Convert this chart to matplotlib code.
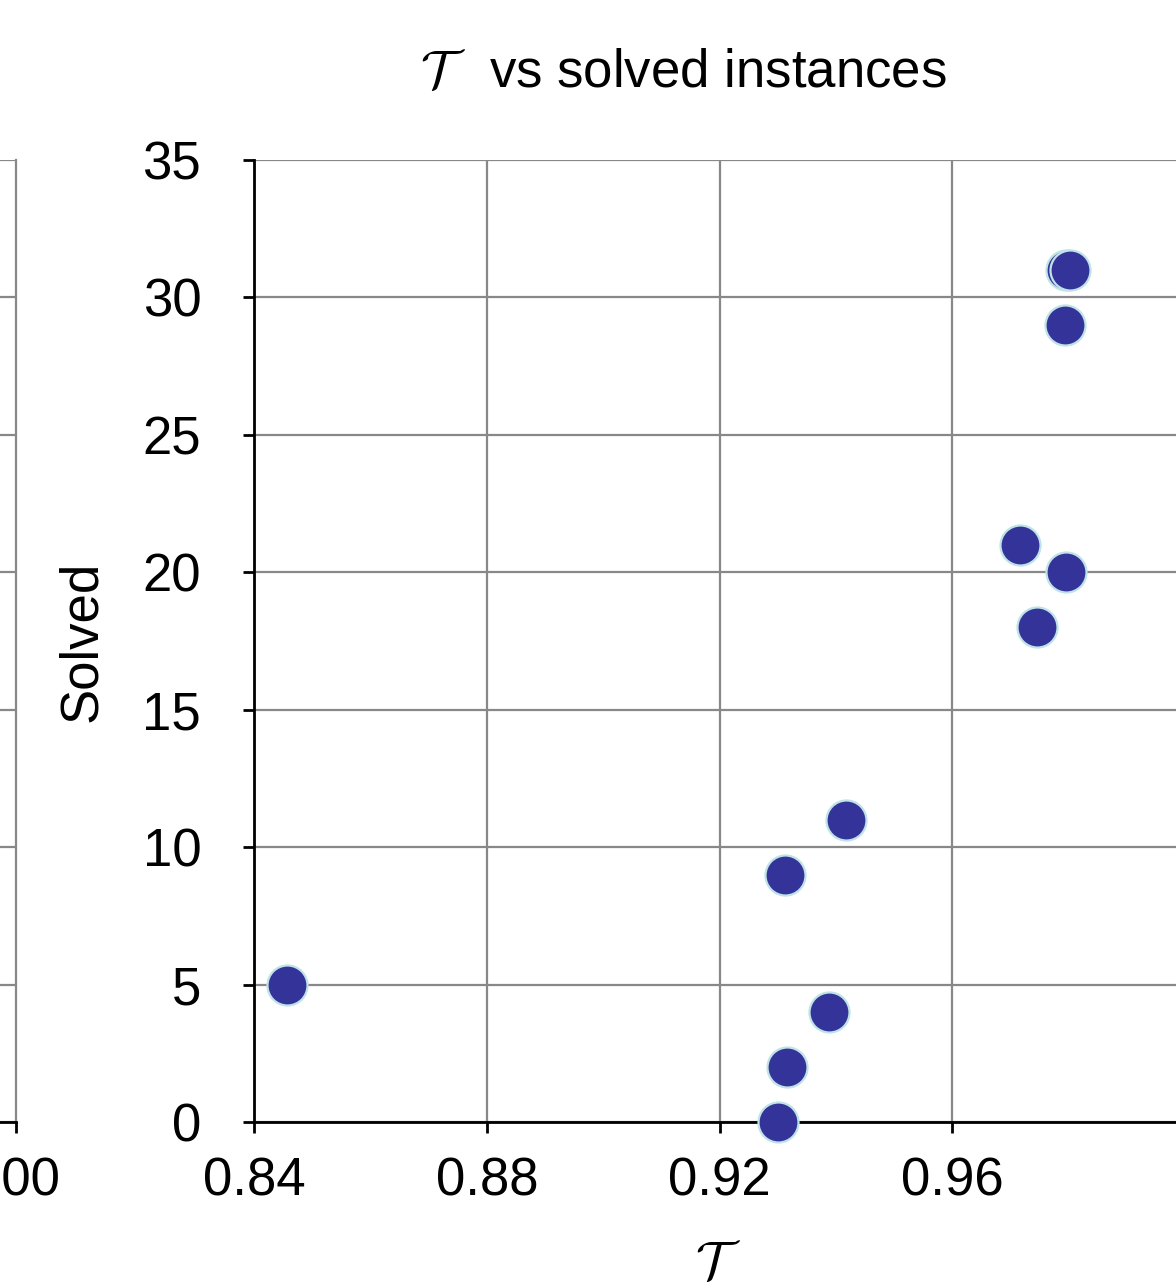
import matplotlib
matplotlib.use('Agg')
import matplotlib.pyplot as plt

# data
tau = [0.8457, 0.9301, 0.9316, 0.9388, 0.9313, 0.9418,
       0.9717, 0.9746, 0.9796, 0.9794, 0.9796, 0.9803]
solved = [5, 0, 2, 4, 9, 11, 21, 18, 20, 29, 31, 31]
x_ticks = [0.84, 0.88, 0.92, 0.96]
y_ticks = [0, 5, 10, 15, 20, 25, 30, 35]

plt.rcParams['font.family'] = ['Liberation Sans', 'DejaVu Sans']

W, H = 1176, 1284
fig = plt.figure(figsize=(W / 100, H / 100), dpi=100)

grid_kw = dict(color='#888888', linewidth=1.6)
FS = 38

# partial neighbouring panel on the far left
ax0 = fig.add_axes([-0.6, (H - 1122) / H, 0.6 + 16 / W, (1122 - 160) / H])
ax0.set_xlim(0, 100)
ax0.set_ylim(0, 35)
ax0.set_xticks([0, 50, 100])
ax0.set_yticks(y_ticks)
ax0.grid(True, axis='y', **grid_kw)
for s in ['top', 'left']:
    ax0.spines[s].set_visible(False)
ax0.spines['right'].set_color('#888888')
ax0.spines['right'].set_linewidth(1.6)
ax0.spines['bottom'].set_linewidth(2)
ax0.tick_params(axis='x', direction='out', length=8, width=2, labelsize=FS, pad=17)
ax0.tick_params(axis='y', length=0, labelleft=False)

# main panel
ax = fig.add_axes([254 / W, (H - 1122) / H, (1185 - 254) / W, (1122 - 160) / H])
ax.scatter(tau, solved, s=830, color='#333399', edgecolors='#bfe3e6',
           linewidths=1.6, zorder=3, clip_on=False)
ax.set_xlim(0.84, 1.00)
ax.set_ylim(0, 35)
ax.set_xticks(x_ticks)
ax.set_xticklabels([f'{v:.2f}' for v in x_ticks])
ax.set_yticks(y_ticks)
ax.grid(True, **grid_kw)
ax.axvline(1.00, **grid_kw)
ax.set_axisbelow(True)
ax.spines['top'].set_visible(False)
ax.spines['right'].set_visible(False)
for s in ['left', 'bottom']:
    ax.spines[s].set_linewidth(2)
ax.tick_params(axis='x', direction='out', length=8, width=2, labelsize=FS, pad=17)
ax.tick_params(axis='y', direction='out', length=8, width=2, labelsize=FS, pad=30)

fig.text(683 / W, 1 - 73 / H, r'$\mathcal{T}\;\;$ vs solved instances', fontsize=FS,
         ha='center', va='center', math_fontfamily='cm')
fig.text(82 / W, 1 - 641 / H, 'Solved', fontsize=FS, rotation=90,
         ha='center', va='center')
fig.text(718 / W, 1 - 1264 / H, r'$\mathcal{T}$', fontsize=FS,
         ha='center', va='center', math_fontfamily='cm')

fig.savefig('out.png', dpi=100)
